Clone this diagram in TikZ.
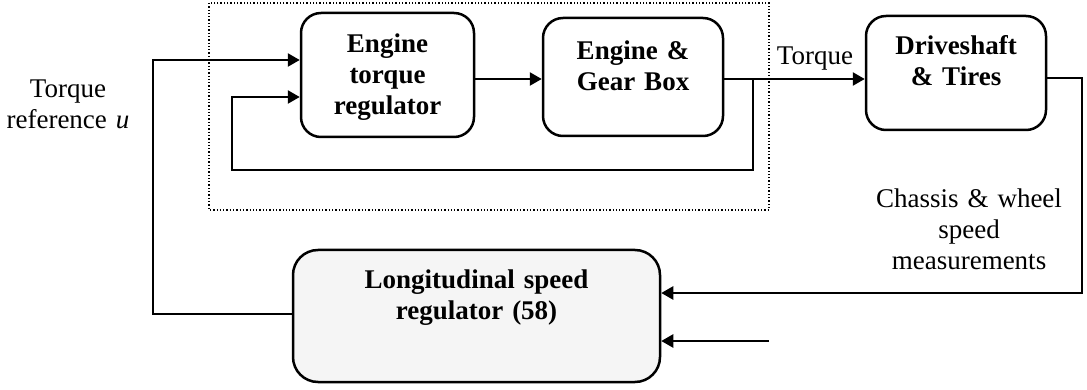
\documentclass[tikz,border=0pt]{standalone}
\usepackage{fontspec}
\setmainfont{Liberation Serif}
\usetikzlibrary{arrows.meta}
\begin{document}
\begin{tikzpicture}[x=1pt,y=-1pt,
  blk/.style={draw, line width=2.5pt, rounded corners=20pt, inner sep=0pt},
  txt/.style={inner sep=0pt, anchor=base, text width=#1, align=center,
    font=\fontsize{27}{31}\selectfont},
  btxt/.style={txt=#1, font=\fontsize{27}{31}\selectfont\bfseries},
  conn/.style={line width=2.5pt},
  arr/.style={conn, -{Triangle[length=12pt,width=13pt]}}]
\useasboundingbox (0,0) rectangle (1087,390);

% dotted subsystem frame
\draw[dotted, line width=1.3pt] (209,3) rectangle (769,210);

% blocks
\node[blk, minimum width=173pt, minimum height=124pt] (etr) at (387.5,75) {};
\node[blk, minimum width=180pt, minimum height=118pt] (egb) at (633,77) {};
\node[blk, minimum width=180pt, minimum height=114pt] (dt) at (956,73) {};
\node[blk, rounded corners=25pt, fill=black!4, minimum width=367pt, minimum height=132pt] (lsr) at (476.5,316) {};

% block texts
\node[btxt=170pt] (etrt) at (387.5,53) {Engine\\torque\\regulator};
\node[btxt=178pt] (egbt) at (633,60) {Engine \&\\Gear Box};
\node[btxt=178pt] (dtt) at (956,55) {Driveshaft\\\& Tires};
\node[btxt=360pt] (lsrt) at (476.5,288) {Longitudinal speed\\regulator (58)};

% free labels
\node[txt=150pt] (tref) at (68,98) {Torque\\reference \textit{u}};
\node[txt=90pt] (tq) at (815,65) {Torque};
\node[txt=210pt] (meas) at (969,208) {Chassis \& wheel\\speed\\measurements};

% helper coordinates
\coordinate (y60) at (0,60);
\coordinate (y79) at (0,79);
\coordinate (y97) at (0,97);
\coordinate (y78) at (0,78);
\coordinate (y293) at (0,293);
\coordinate (y314) at (0,314);
\coordinate (y341) at (0,341);
\coordinate (br) at (753,79);
\coordinate (fb1) at (753,170);
\coordinate (fb2) at (232,170);
\coordinate (fb3) at (232,97);
\coordinate (ref1) at (153,314);
\coordinate (ref2) at (153,60);
\coordinate (m1) at (1082,78);
\coordinate (m2) at (1082,293);
\coordinate (vin) at (769,341);

% connectors
\draw[arr] (etr.east |- y79) -- (egb.west |- y79);
\draw[arr] (egb.east |- y79) -- (dt.west |- y79);
\draw[arr] (br) -- (fb1) -- (fb2) -- (fb3) -- (etr.west |- y97);
\draw[arr] (lsr.west |- y314) -- (ref1) -- (ref2) -- (etr.west |- y60);
\draw[arr] (dt.east |- y78) -- (m1) -- (m2) -- (lsr.east |- y293);
\draw[arr] (vin) -- (lsr.east |- y341);
\end{tikzpicture}
\end{document}
